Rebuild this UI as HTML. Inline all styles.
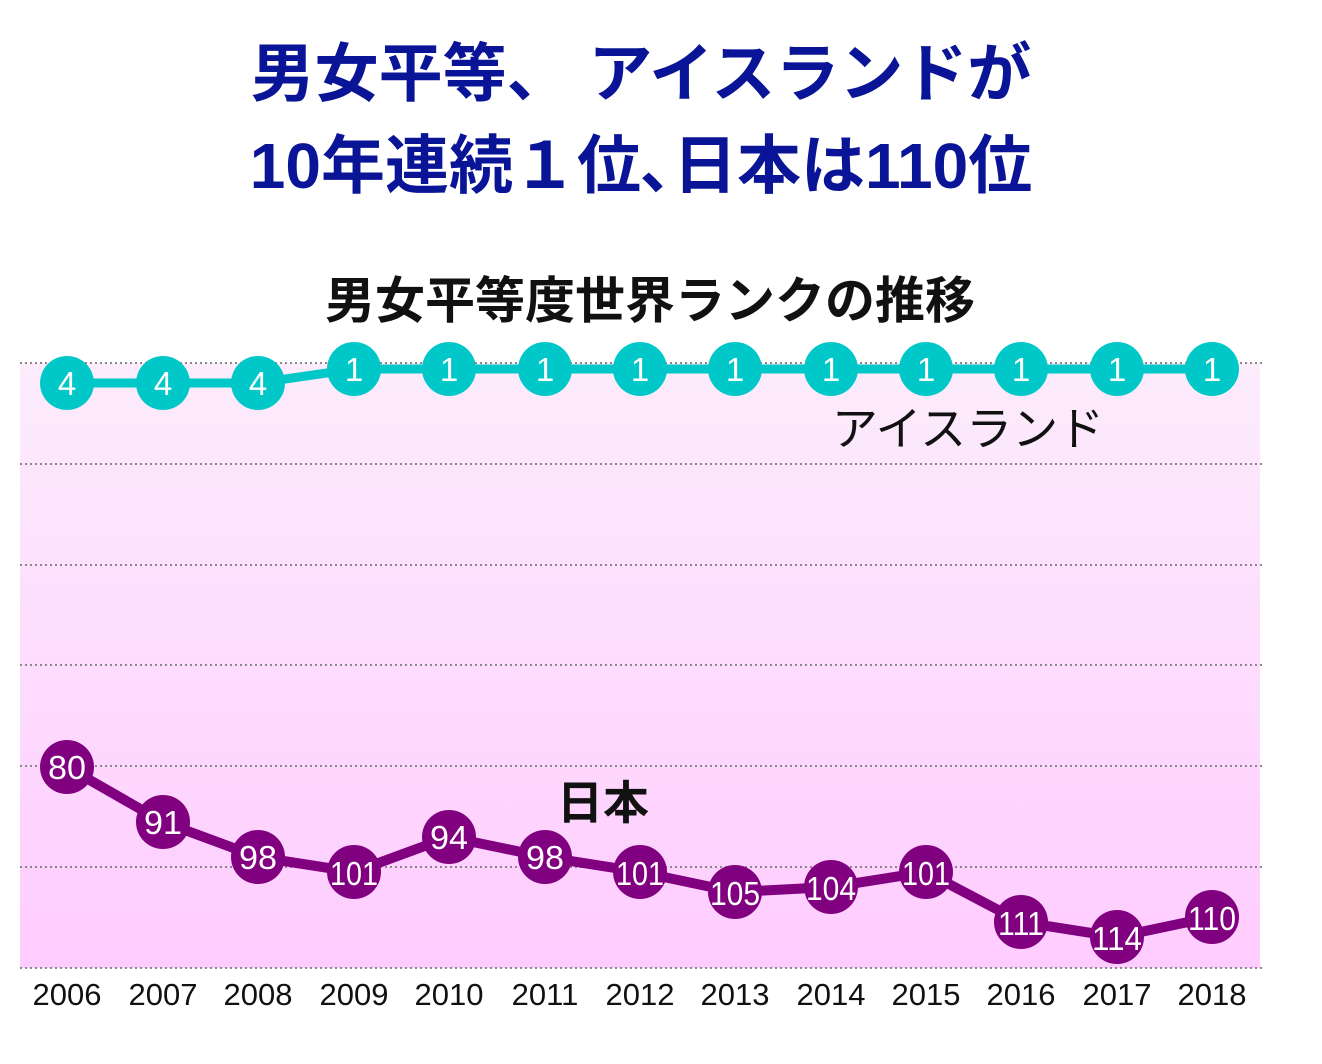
<!DOCTYPE html>
<html><head><meta charset="utf-8"><style>
body{margin:0;background:#fff;width:1322px;height:1059px;overflow:hidden}
svg text{font-family:"Liberation Sans","Noto Sans CJK JP",sans-serif}
</style></head><body>
<svg width="1322" height="1059" xmlns="http://www.w3.org/2000/svg">
<defs><linearGradient id="g" x1="0" y1="0" x2="0" y2="1"><stop offset="0" stop-color="#fcecfc"/><stop offset="1" stop-color="#ffccff"/></linearGradient></defs>
<text x="641" y="96" text-anchor="middle" font-size="64" font-weight="bold" fill="#0a1496">男女平等、 アイスランドが</text>
<text x="641" y="188" text-anchor="middle" font-size="64" font-weight="bold" fill="#0a1496">10年連続１位､日本は110位</text>
<text x="650" y="318" text-anchor="middle" font-size="50" font-weight="bold" fill="#111">男女平等度世界ランクの推移</text>
<rect x="20" y="363" width="1240" height="605" fill="url(#g)"/>
<g stroke="#888" stroke-width="2" stroke-dasharray="2,3">
<line x1="20" x2="1262" y1="363" y2="363"/><line x1="20" x2="1262" y1="464" y2="464"/><line x1="20" x2="1262" y1="565" y2="565"/><line x1="20" x2="1262" y1="665" y2="665"/><line x1="20" x2="1262" y1="766" y2="766"/><line x1="20" x2="1262" y1="867" y2="867"/><line x1="20" x2="1262" y1="968" y2="968"/>
</g>
<polyline fill="none" stroke="#00c8c8" stroke-width="9" points="67,383 163,383 258,383 354,369 449,369 545,369 640,369 735,369 831,369 926,369 1021,369 1117,369 1212,369"/>
<g fill="#00c8c8">
<circle cx="67" cy="383" r="27"/><circle cx="163" cy="383" r="27"/><circle cx="258" cy="383" r="27"/><circle cx="354" cy="369" r="27"/><circle cx="449" cy="369" r="27"/><circle cx="545" cy="369" r="27"/><circle cx="640" cy="369" r="27"/><circle cx="735" cy="369" r="27"/><circle cx="831" cy="369" r="27"/><circle cx="926" cy="369" r="27"/><circle cx="1021" cy="369" r="27"/><circle cx="1117" cy="369" r="27"/><circle cx="1212" cy="369" r="27"/>
</g>
<g fill="#fff" font-size="33" text-anchor="middle">
<text x="67" y="395">4</text><text x="163" y="395">4</text><text x="258" y="395">4</text><text x="354" y="381">1</text><text x="449" y="381">1</text><text x="545" y="381">1</text><text x="640" y="381">1</text><text x="735" y="381">1</text><text x="831" y="381">1</text><text x="926" y="381">1</text><text x="1021" y="381">1</text><text x="1117" y="381">1</text><text x="1212" y="381">1</text>
</g>
<text x="968" y="445" text-anchor="middle" font-size="46" fill="#111">アイスランド</text>
<text x="603" y="819" text-anchor="middle" font-size="46" font-weight="bold" fill="#111">日本</text>
<polyline fill="none" stroke="#800080" stroke-width="10" points="67,767 163,822 258,857 354,872 449,837 545,857 640,872 735,892 831,887 926,872 1021,922 1117,937 1212,917"/>
<g fill="#800080">
<circle cx="67" cy="767" r="27"/><circle cx="163" cy="822" r="27"/><circle cx="258" cy="857" r="27"/><circle cx="354" cy="872" r="27"/><circle cx="449" cy="837" r="27"/><circle cx="545" cy="857" r="27"/><circle cx="640" cy="872" r="27"/><circle cx="735" cy="892" r="27"/><circle cx="831" cy="887" r="27"/><circle cx="926" cy="872" r="27"/><circle cx="1021" cy="922" r="27"/><circle cx="1117" cy="937" r="27"/><circle cx="1212" cy="917" r="27"/>
</g>
<g fill="#fff" font-size="33" text-anchor="middle">
<text x="67" y="779" textLength="38" lengthAdjust="spacingAndGlyphs">80</text><text x="163" y="834" textLength="38" lengthAdjust="spacingAndGlyphs">91</text><text x="258" y="869" textLength="38" lengthAdjust="spacingAndGlyphs">98</text><text x="354" y="885" textLength="48" lengthAdjust="spacingAndGlyphs">101</text><text x="449" y="849" textLength="38" lengthAdjust="spacingAndGlyphs">94</text><text x="545" y="869" textLength="38" lengthAdjust="spacingAndGlyphs">98</text><text x="640" y="885" textLength="48" lengthAdjust="spacingAndGlyphs">101</text><text x="735" y="905" textLength="50" lengthAdjust="spacingAndGlyphs">105</text><text x="831" y="900" textLength="50" lengthAdjust="spacingAndGlyphs">104</text><text x="926" y="885" textLength="48" lengthAdjust="spacingAndGlyphs">101</text><text x="1021" y="935" textLength="46" lengthAdjust="spacingAndGlyphs">111</text><text x="1117" y="950" textLength="50" lengthAdjust="spacingAndGlyphs">114</text><text x="1212" y="930" textLength="48" lengthAdjust="spacingAndGlyphs">110</text>
</g>
<g fill="#111" font-size="31" text-anchor="middle">
<text x="67" y="1005">2006</text><text x="163" y="1005">2007</text><text x="258" y="1005">2008</text><text x="354" y="1005">2009</text><text x="449" y="1005">2010</text><text x="545" y="1005">2011</text><text x="640" y="1005">2012</text><text x="735" y="1005">2013</text><text x="831" y="1005">2014</text><text x="926" y="1005">2015</text><text x="1021" y="1005">2016</text><text x="1117" y="1005">2017</text><text x="1212" y="1005">2018</text>
</g>
</svg>
</body></html>
